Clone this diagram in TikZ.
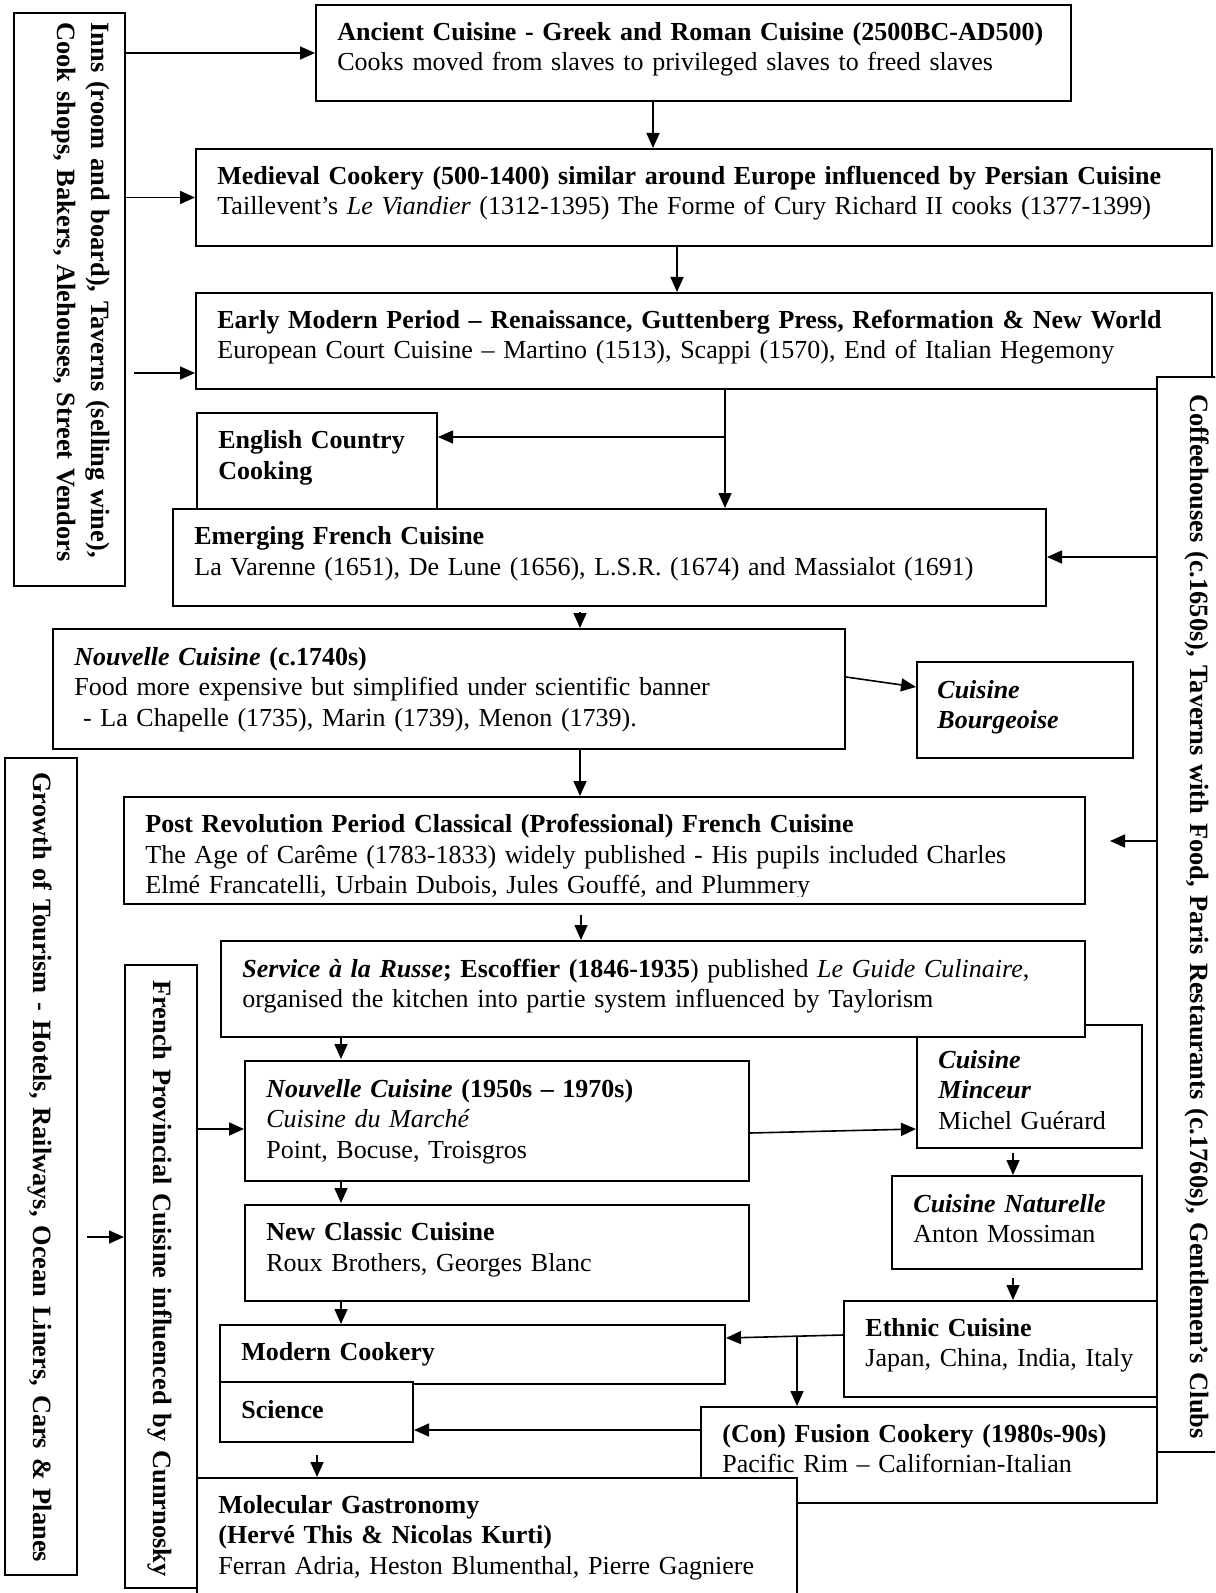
\documentclass[tikz,border=0pt]{standalone}
\usepackage{fontspec}
\setmainfont{Liberation Serif}
\usetikzlibrary{arrows.meta,fit}
\newcommand\dfont{\fontsize{13.0}{15.25}\selectfont}
\newcommand\vfont{\fontsize{13.2}{16.8}\selectfont}
\begin{document}
\begin{tikzpicture}[x=0.5pt,y=-0.5pt,
  box/.style={draw,fill=white,line width=1pt,inner sep=0pt,rectangle},
  txt/.style={anchor=base west,inner sep=0pt,align=left,text width=650pt,font=\dfont},
  vtxt/.style={anchor=base west,inner sep=0pt,align=left,text width=650pt,rotate=-90,font=\vfont\bfseries},
  arr/.style={line width=0.8pt,-{Triangle[length=7.5pt,width=6.5pt]}}]
\useasboundingbox (0,0) rectangle (1215,1593);
\clip (0,0) rectangle (1215,1593);

% boxes (bottom to top)
\node[box,fit={(14,13)(125,586)}] (inns) {};
\node[vtxt] (innsT) at (91,22) {Inns (room and board), Taverns (selling wine),\\Cook shops, Bakers, Alehouses, Street Vendors};

\node[box,fit={(316,5)(1071,101)}] (anc) {};
\node[txt] (ancT) at (337,40.5) {\textbf{Ancient Cuisine - Greek and Roman Cuisine (2500BC-AD500)}\\Cooks moved from slaves to privileged slaves to freed slaves};

\node[box,fit={(196,149)(1212,246)}] (med) {};
\node[txt] (medT) at (217,184.5) {\textbf{Medieval Cookery (500-1400) similar around Europe influenced by Persian Cuisine}\\Taillevent’s \textit{Le Viandier} (1312-1395) The Forme of Cury Richard II cooks (1377-1399)};

\node[box,fit={(196,293)(1212,389)}] (em) {};
\node[txt] (emT) at (217,328.5) {\textbf{Early Modern Period – Renaissance, Guttenberg Press, Reformation \& New World}\\European Court Cuisine – Martino (1513), Scappi (1570), End of Italian Hegemony};

\node[box,fit={(1157,377)(1260,1452)}] (cof) {};
\node[vtxt] (cofT) at (1190,394) {Coffeehouses (c.1650s), Taverns with Food, Paris Restaurants (c.1760s), Gentlemen’s Clubs};

\node[box,fit={(197,413)(437,540)}] (eng) {};
\node[txt] (engT) at (218,449) {\textbf{English Country}\\\textbf{Cooking}};

\node[box,fit={(173,509)(1046,606)}] (emf) {};
\node[txt] (emfT) at (194,544.5) {\textbf{Emerging French Cuisine}\\La Varenne (1651), De Lune (1656), L.S.R. (1674) and Massialot (1691)};

\node[box,fit={(53,629)(845,749)}] (nc1) {};
\node[txt] (nc1T) at (74,665) {\textbf{\textit{Nouvelle Cuisine} (c.1740s)}\\Food more expensive but simplified under scientific banner\\\ - La Chapelle (1735), Marin (1739), Menon (1739).};

\node[box,fit={(917,662)(1133,758)}] (bou) {};
\node[txt] (bouT) at (937,698) {\textbf{\textit{Cuisine}}\\\textbf{\textit{Bourgeoise}}};

\node[box,fit={(124,797)(1085,904)}] (post) {};
\begin{scope}
\clip (post.north west) rectangle (1085,896);
\node[txt] (postT) at (145,832.5) {\textbf{Post Revolution Period Classical (Professional) French Cuisine}\\The Age of Carême (1783-1833) widely published - His pupils included Charles\\Elmé Francatelli, Urbain Dubois, Jules Gouffé, and Plummery};
\end{scope}

\node[box,fit={(5,758)(77,1575)}] (gro) {};
\node[vtxt] (groT) at (33,772) {Growth of Tourism - Hotels, Railways, Ocean Liners, Cars \& Planes};

\node[box,fit={(917,1025)(1142,1148)}] (min) {};
\node[txt] (minT) at (938,1068) {\textbf{\textit{Cuisine}}\\\textbf{\textit{Minceur}}\\Michel Guérard};

\node[box,fit={(221,941)(1085,1037)}] (ser) {};
\node[txt] (serT) at (242,977) {\textbf{\textit{Service à la Russe}; Escoffier (1846-1935}) published \textit{Le Guide Culinaire},\\organised the kitchen into partie system influenced by Taylorism};

\node[box,fit={(125,965)(197,1588)}] (fp) {};
\node[vtxt] (fpT) at (153,980) {French Provincial Cuisine influenced by Cunrnosky};

\node[box,fit={(245,1061)(749,1181)}] (nc2) {};
\node[txt] (nc2T) at (266,1097) {\textbf{\textit{Nouvelle Cuisine} (1950s – 1970s)}\\\textit{Cuisine du Marché}\\Point, Bocuse, Troisgros};

\node[box,fit={(245,1205)(749,1301)}] (ncc) {};
\node[txt] (nccT) at (266,1240.5) {\textbf{New Classic Cuisine}\\Roux Brothers, Georges Blanc};

\node[box,fit={(892,1176)(1142,1269)}] (nat) {};
\node[txt] (natT) at (913,1212) {\textbf{\textit{Cuisine Naturelle}}\\Anton Mossiman};

\node[box,fit={(844,1301)(1157,1397)}] (eth) {};
\node[txt] (ethT) at (865,1336) {\textbf{Ethnic Cuisine}\\Japan, China, India, Italy};

\node[box,fit={(220,1325)(725,1384)}] (mod) {};
\node[txt] (modT) at (241,1360) {\textbf{Modern Cookery}};

\node[box,fit={(220,1382)(413,1442)}] (sci) {};
\node[txt] (sciT) at (241,1418) {\textbf{Science}};

\node[box,fit={(701,1407)(1157,1503)}] (fus) {};
\node[txt] (fusT) at (722,1442) {\textbf{(Con) Fusion Cookery (1980s-90s)}\\Pacific Rim – Californian-Italian};

\node[box,fit={(197,1478)(797,1650)}] (mol) {};
\node[txt] (molT) at (218,1513) {\textbf{Molecular Gastronomy}\\\textbf{(Hervé This \& Nicolas Kurti)}\\Ferran Adria, Heston Blumenthal, Pierre Gagniere};

% connectors
\coordinate (i3) at (134,373);
\coordinate (cp) at (1110,841);
\coordinate (br1) at (725,437);
\coordinate (br2) at (797,1336);

\draw[arr] (inns.east |- anc.west) -- (anc.west);
\draw[arr] (inns.east |- med.west) -- (med.west);
\draw[arr] (i3) -- (i3 -| em.west);
\draw[arr] (653,0 |- anc.south) -- (653,0 |- med.north);
\draw[arr] (677,0 |- med.south) -- (677,0 |- em.north);
\draw[arr] (725,0 |- em.south) -- (725,0 |- emf.north);
\draw[arr] (br1) -- (br1 -| eng.east);
\draw[arr] (cof.west |- 0,557) -- (emf.east |- 0,557);
\draw[arr] (580,612) -- (580,0 |- nc1.north);
\draw[arr] (nc1.east |- 0,677) -- (bou.west |- 0,687);
\draw[arr] (580,0 |- nc1.south) -- (580,0 |- post.north);
\draw[arr] (cof.west |- cp) -- (cp);
\draw[arr] (581,915) -- (581,0 |- ser.north);
\draw[arr] (341,0 |- ser.south) -- (341,1059);
\draw[arr] (fp.east |- 0,1129) -- (nc2.west |- 0,1129);
\draw[arr] (nc2.east |- 0,1133) -- (min.west |- 0,1129);
\draw[arr] (341,0 |- nc2.south) -- (341,1203);
\draw[arr] (1013,1153) -- (1013,0 |- nat.north);
\draw[arr] (1013,1278) -- (1013,0 |- eth.north);
\draw[arr] (341,0 |- ncc.south) -- (341,0 |- mod.north);
\draw[arr] (eth.west |- 0,1335) -- (mod.east |- 0,1338);
\draw[arr] (br2) -- (br2 |- fus.north);
\draw[arr] (fus.west |- 0,1430) -- (sci.east |- 0,1430);
\draw[arr] (317,1455) -- (317,0 |- mol.north);
\draw[arr] (87,1237) -- (fp.west |- 0,1237);
\end{tikzpicture}
\end{document}
